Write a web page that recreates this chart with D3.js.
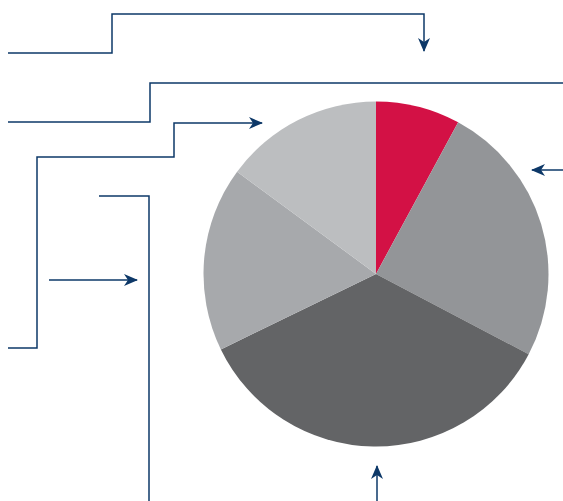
<!DOCTYPE html>
<html>
<head>
<meta charset="utf-8">
<script src="https://cdn.jsdelivr.net/npm/d3@7"></script>
<style>
  body { margin: 0; background: #fff; }
</style>
</head>
<body>
<script>
"use strict";
(function(){
    // slice shares, clockwise from 12 o'clock
    const categories = ["A", "B", "C", "D", "E"]
    const values = [7.9, 24.8, 35.1, 17.3, 14.9]
    const colors = ["#d31145", "#939598", "#636466", "#a7a9ac", "#bcbec0"]

    const measurements = {
        width: 563,
        height: 501,
        cx: 376,
        cy: 274,
        radius: 172.5
    }
    const navy = "#0d3868"

    // callout connectors (layout only)
    const connectors = [
        { pts: [[8,53],[112,53],[112,14],[424,14],[424,51]], arrow: true },
        { pts: [[8,122],[150,122],[150,83],[563,83]], arrow: false },
        { pts: [[8,348],[37,348],[37,157],[174,157],[174,123],[262,123]], arrow: true },
        { pts: [[99,196],[149,196],[149,501]], arrow: false },
        { pts: [[49,280],[137,280]], arrow: true },
        { pts: [[563,170],[532,170]], arrow: true },
        { pts: [[377,501],[377,466]], arrow: true }
    ]

    const svgContainer = d3.select("body").append("svg")
        .attr("width", measurements.width)
        .attr("height", measurements.height)

    // arrow head
    svgContainer.append("defs").append("marker")
        .attr("id", "arrow")
        .attr("markerUnits", "userSpaceOnUse")
        .attr("viewBox", "0 0 14 12")
        .attr("refX", 13)
        .attr("refY", 6)
        .attr("markerWidth", 14)
        .attr("markerHeight", 12)
        .attr("orient", "auto")
        .append("path")
        .attr("d", "M0,0 L14,6 L0,12 L4,6 Z")
        .attr("fill", navy)

    const pie = d3.pie().sort(null).value((d) => d.value)
    const arc = d3.arc().innerRadius(0).outerRadius(measurements.radius)
    const data = categories.map((c, i) => ({ name: c, value: values[i], color: colors[i] }))

    svgContainer.append("g")
        .attr("transform", "translate(" + measurements.cx + "," + measurements.cy + ")")
        .selectAll("path")
        .data(pie(data))
        .enter()
        .append("path")
            .attr("d", arc)
            .attr("fill", (d) => d.data.color)

    const line = d3.line()
    svgContainer.selectAll(".connector")
        .data(connectors)
        .enter()
        .append("path")
            .attr("class", "connector")
            .attr("d", (d) => line(d.pts))
            .attr("fill", "none")
            .attr("stroke", navy)
            .attr("stroke-width", 1.5)
            .attr("marker-end", (d) => d.arrow ? "url(#arrow)" : null)
})()
</script>
</body>
</html>
